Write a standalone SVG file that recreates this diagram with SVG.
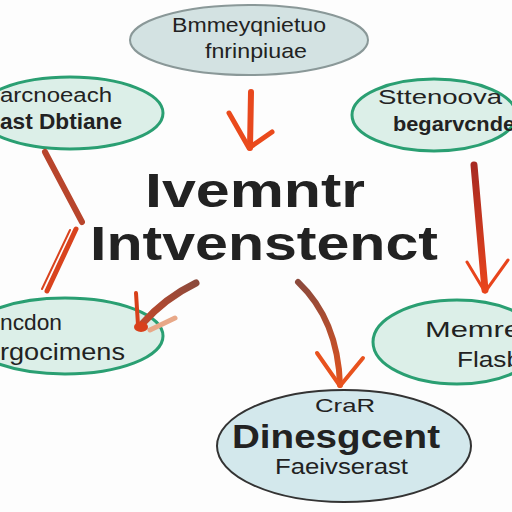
<svg xmlns="http://www.w3.org/2000/svg" width="512" height="512" viewBox="0 0 512 512">
  <style>
    .t { font-family: "Liberation Sans", Arial, sans-serif; fill: #222; }
    .b { font-weight: bold; }
    .green { fill: #dcefe8; stroke: #2a9f72; stroke-width: 3; }
    .gray { fill: #d3e2e2; stroke: #8a9898; stroke-width: 2; }
    .blue { fill: #d3e8ec; stroke: #333; stroke-width: 2; }
    .arr { fill: none; stroke-linecap: round; stroke-linejoin: round; }
  </style>
  <defs>
    <linearGradient id="g1" x1="0" y1="0" x2="0" y2="1">
      <stop offset="0" stop-color="#8c4a3c"/>
      <stop offset="1" stop-color="#e0521e"/>
    </linearGradient>
    <linearGradient id="g2" x1="1" y1="0" x2="0" y2="1">
      <stop offset="0" stop-color="#8c4a3c"/>
      <stop offset="1" stop-color="#c2482a"/>
    </linearGradient>
    <linearGradient id="g3" x1="0" y1="0" x2="0" y2="1">
      <stop offset="0" stop-color="#a82a22"/>
      <stop offset="1" stop-color="#e8441c"/>
    </linearGradient>
  </defs>
  <rect width="512" height="512" fill="#fdfdfd"/>

  <g id="node-top">
    <ellipse class="gray" cx="249" cy="40" rx="119" ry="35"/>
    <text class="t" x="249" y="32" font-size="20" text-anchor="middle" textLength="154" lengthAdjust="spacingAndGlyphs">Bmmeyqnietuo</text>
    <text class="t" x="256" y="58" font-size="21" text-anchor="middle" textLength="102" lengthAdjust="spacingAndGlyphs">fnrinpiuae</text>
  </g>

  <g id="node-left-top">
    <ellipse class="green" cx="70" cy="113" rx="93" ry="36"/>
    <text class="t" x="0" y="102" font-size="20" textLength="112" lengthAdjust="spacingAndGlyphs">arcnoeach</text>
    <text class="t b" x="0" y="129" font-size="22" textLength="122" lengthAdjust="spacingAndGlyphs">ast Dbtiane</text>
  </g>

  <g id="node-right-top">
    <ellipse class="green" cx="434" cy="115" rx="82" ry="36"/>
    <text class="t" x="378" y="104" font-size="21" textLength="124" lengthAdjust="spacingAndGlyphs">Sttenoova</text>
    <text class="t b" x="393" y="131" font-size="20" textLength="122" lengthAdjust="spacingAndGlyphs">begarvcnde</text>
  </g>

  <g id="node-center">
    <text class="t b" x="145" y="207" font-size="49" textLength="220" lengthAdjust="spacingAndGlyphs" fill="#1a1a1a">Ivemntr</text>
    <text class="t b" x="90" y="260" font-size="49" textLength="348" lengthAdjust="spacingAndGlyphs" fill="#1a1a1a">Intvenstenct</text>
  </g>

  <g id="node-left-bottom">
    <ellipse class="green" cx="65" cy="336" rx="98" ry="38"/>
    <text class="t" x="0" y="330" font-size="22" textLength="62" lengthAdjust="spacingAndGlyphs">ncdon</text>
    <text class="t" x="0" y="360" font-size="24" textLength="125" lengthAdjust="spacingAndGlyphs">rgocimens</text>
  </g>

  <g id="node-right-bottom">
    <ellipse class="green" cx="457" cy="342" rx="84" ry="42"/>
    <text class="t" x="425" y="337" font-size="22" textLength="96" lengthAdjust="spacingAndGlyphs">Memre</text>
    <text class="t" x="457" y="367" font-size="22" textLength="64" lengthAdjust="spacingAndGlyphs">Flasb</text>
  </g>

  <g id="node-bottom">
    <ellipse class="blue" cx="344" cy="446" rx="127" ry="56"/>
    <text class="t" x="315" y="412" font-size="19" textLength="60" lengthAdjust="spacingAndGlyphs">CraR</text>
    <text class="t b" x="232" y="448" font-size="34" textLength="208" lengthAdjust="spacingAndGlyphs">Dinesgcent</text>
    <text class="t" x="275" y="474" font-size="22" textLength="133" lengthAdjust="spacingAndGlyphs">Faeivserast</text>
  </g>

  <g id="connectors">
    <!-- top arrow -->
    <path class="arr" d="M251 92 L250 148" stroke="#e8481e" stroke-width="6"/>
    <path class="arr" d="M229 113 L249 148 L272 132" stroke="#ea4a1c" stroke-width="5"/>
    <!-- left zigzag -->
    <path class="arr" d="M45 152 L82 222" stroke="#b8452c" stroke-width="6"/>
    <path class="arr" d="M76 229 L47 291" stroke="#d9431e" stroke-width="5"/>
    <path class="arr" d="M70 230 L42 289" stroke="#d9431e" stroke-width="2"/>
    <!-- center to left-bottom -->
    <path class="arr" d="M196 283 Q165 298 142 324" stroke="url(#g2)" stroke-width="7"/>
    <path class="arr" d="M136 293 L138 325" stroke="#d8401a" stroke-width="4"/>
    <path class="arr" d="M175 318 L150 330" stroke="#e8a888" stroke-width="5"/>
    <ellipse cx="141" cy="327" rx="7" ry="5" fill="#d8401a"/>
    <!-- center to bottom -->
    <path class="arr" d="M298 282 Q338 320 340 385" stroke="url(#g1)" stroke-width="6"/>
    <path class="arr" d="M317 353 L340 386 L363 358" stroke="#e8521e" stroke-width="4"/>
    <!-- right arrow -->
    <path class="arr" d="M474 165 L485 290" stroke="url(#g3)" stroke-width="7"/>
    <path class="arr" d="M467 262 L485 292 L508 260" stroke="#e8441c" stroke-width="3"/>
  </g>
</svg>
